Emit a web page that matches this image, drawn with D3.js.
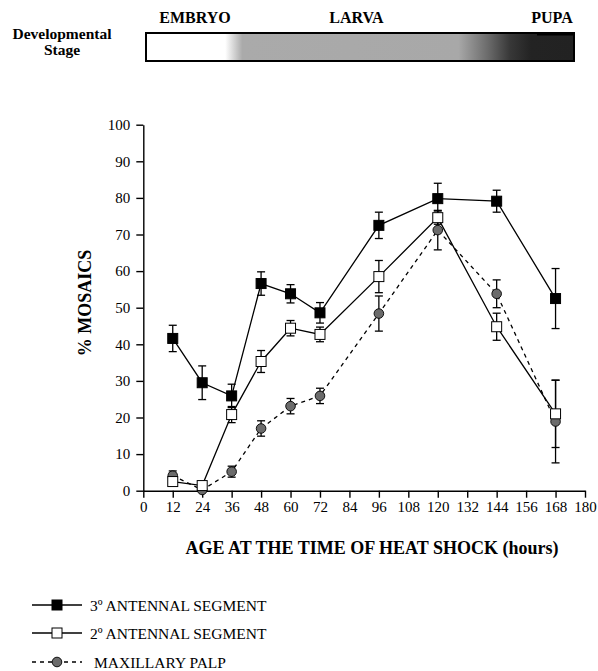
<!DOCTYPE html>
<html>
<head>
<meta charset="utf-8">
<script src="https://cdn.jsdelivr.net/npm/d3@7"></script>
<style>
  body { margin: 0; background: #fff; }
  svg text { font-family: "Liberation Serif", "Times New Roman", serif; fill: #000; }
</style>
</head>
<body>
<svg id="chart"></svg>
<script>
// hours after egg laying at which the heat shock was given
const hours = [12, 24, 36, 48, 60, 72, 96, 120, 144, 168];

const thirdSeg = [41.6, 29.5, 25.9, 56.6, 53.8, 48.6, 72.5, 79.8, 79.1, 52.5];
const thirdErr = [3.6, 4.6, 3.2, 3.2, 2.5, 2.8, 3.6, 4.2, 3.0, 8.2];

const secondSeg = [2.5, 1.4, 20.8, 35.3, 44.4, 42.7, 58.5, 74.6, 44.8, 21.0];
const secondErr = [0.8, 0.6, 2.2, 3.0, 2.1, 2.0, 4.4, 1.8, 3.7, 9.2];

const palp = [4.1, 0.2, 5.2, 17.0, 23.1, 25.9, 48.4, 71.2, 53.8, 18.9];
const palpErr = [1.3, 0.4, 1.5, 2.1, 2.1, 2.1, 4.8, 5.4, 3.8, 11.3];

const xTicks = d3.range(0, 181, 12);
const yTicks = d3.range(0, 101, 10);

const stages = ["EMBRYO", "LARVA", "PUPA"];
const seriesNames = ["3º ANTENNAL SEGMENT", "2º ANTENNAL SEGMENT", "MAXILLARY PALP"];

const width = 598, height = 671;
const margin = { top: 124.7, left: 143.3, right: 13, bottom: 180.3 };
const innerW = width - margin.left - margin.right;
const innerH = height - margin.top - margin.bottom;

const svg = d3.select("#chart").attr("width", width).attr("height", height);

// ---- developmental stage bar ----
const defs = svg.append("defs");
const grad = defs.append("linearGradient").attr("id", "stage");
[
  [0, "#ffffff"], [0.185, "#ffffff"], [0.225, "#aaaaaa"], [0.73, "#a8a8a8"],
  [0.8, "#6a6a6a"], [0.85, "#383838"], [0.9, "#232323"], [1, "#222222"]
].forEach(([o, c]) => grad.append("stop").attr("offset", o).attr("stop-color", c));

svg.append("rect")
  .attr("x", 146).attr("y", 33).attr("width", 428).attr("height", 28)
  .attr("fill", "url(#stage)").attr("stroke", "#000").attr("stroke-width", 2);
svg.append("line").attr("x1", 537).attr("x2", 575).attr("y1", 34.5).attr("y2", 34.5)
  .attr("stroke", "#000").attr("stroke-width", 2);

const stageX = [195, 356.5, 552];
svg.selectAll(".stage").data(stages).join("text")
  .attr("x", (d, i) => stageX[i]).attr("y", 23)
  .attr("text-anchor", "middle").attr("font-weight", "bold").attr("font-size", 16)
  .text(d => d);

svg.append("text").attr("x", 62).attr("y", 38.5).attr("text-anchor", "middle")
  .attr("font-weight", "bold").attr("font-size", 15.5).text("Developmental");
svg.append("text").attr("x", 62).attr("y", 54.5).attr("text-anchor", "middle")
  .attr("font-weight", "bold").attr("font-size", 15.5).text("Stage");

// ---- plot ----
const g = svg.append("g").attr("transform", `translate(${margin.left},${margin.top})`);

const x = d3.scaleLinear().domain([0, 180]).range([0, innerW]);
const y = d3.scaleLinear().domain([0, 100]).range([innerH, 0]);

const xAxis = g.append("g").attr("transform", `translate(0,${innerH})`)
  .call(d3.axisBottom(x).tickValues(xTicks).tickSize(7).tickPadding(4).tickSizeOuter(0));
const yAxis = g.append("g")
  .call(d3.axisLeft(y).tickValues(yTicks).tickSize(7).tickPadding(6).tickSizeOuter(0));

[xAxis, yAxis].forEach(a => {
  a.attr("font-family", null);
  a.select(".domain").attr("stroke-width", 1.4);
  a.selectAll(".tick line").attr("stroke-width", 1.4);
  a.selectAll(".tick text")
    .style("font-family", "'Liberation Serif', serif").style("font-size", "15px").attr("fill", "#000");
});

svg.append("text").attr("x", 372).attr("y", 554).attr("text-anchor", "middle")
  .attr("font-weight", "bold").attr("font-size", 18)
  .text("AGE AT THE TIME OF HEAT SHOCK (hours)");

svg.append("text")
  .attr("transform", `translate(91,303) rotate(-90)`)
  .attr("text-anchor", "middle").attr("font-weight", "bold").attr("font-size", 18)
  .text("% MOSAICS");

const series = [
  { vals: palp, err: palpErr, shape: "circle", fill: "#6b6b6b", dash: "4,4" },
  { vals: secondSeg, err: secondErr, shape: "square", fill: "#fff", dash: null },
  { vals: thirdSeg, err: thirdErr, shape: "square", fill: "#000", dash: null },
];

const line = d3.line().x(d => x(d[0])).y(d => y(d[1]));

series.forEach(s => {
  const pts = hours.map((h, i) => [h, s.vals[i], s.err[i]]);
  g.append("path").datum(pts).attr("d", line)
    .attr("fill", "none").attr("stroke", "#000").attr("stroke-width", 1.3)
    .attr("stroke-dasharray", s.dash);
});

series.forEach(s => {
  const pts = hours.map((h, i) => [h, s.vals[i], s.err[i]]);
  const eb = g.append("g");
  pts.forEach(([h, v, e]) => {
    const cx = x(h);
    eb.append("line").attr("x1", cx).attr("x2", cx).attr("y1", y(v - e)).attr("y2", y(v + e));
    [v - e, v + e].forEach(t => eb.append("line")
      .attr("x1", cx - 4).attr("x2", cx + 4).attr("y1", y(t)).attr("y2", y(t)));
  });
  eb.selectAll("line").attr("stroke", "#000").attr("stroke-width", 1.3);
});

function drawMarker(sel, s, cx, cy) {
  if (s.shape === "circle") {
    sel.append("circle").attr("cx", cx).attr("cy", cy).attr("r", 4.8)
      .attr("fill", s.fill).attr("stroke", "#000").attr("stroke-width", 0.9);
  } else {
    sel.append("rect").attr("x", cx - 5).attr("y", cy - 5).attr("width", 10).attr("height", 10)
      .attr("fill", s.fill).attr("stroke", "#000").attr("stroke-width", 1);
  }
}

series.forEach(s => {
  const mg = g.append("g");
  hours.forEach((h, i) => drawMarker(mg, s, x(h), y(s.vals[i])));
});

// ---- legend ----
const legendOrder = [series[2], series[1], series[0]];
const legY = [605, 633, 662];
legendOrder.forEach((s, i) => {
  const lg = svg.append("g");
  lg.append("line").attr("x1", 32).attr("x2", 82).attr("y1", legY[i]).attr("y2", legY[i])
    .attr("stroke", "#000").attr("stroke-width", 1.3).attr("stroke-dasharray", s.dash);
  drawMarker(lg, s, 57, legY[i]);
  lg.append("text").attr("x", i === 2 ? 94 : 90).attr("y", legY[i] + 5.5)
    .attr("font-size", 15.5).text(seriesNames[i]);
});
</script>
</body>
</html>
